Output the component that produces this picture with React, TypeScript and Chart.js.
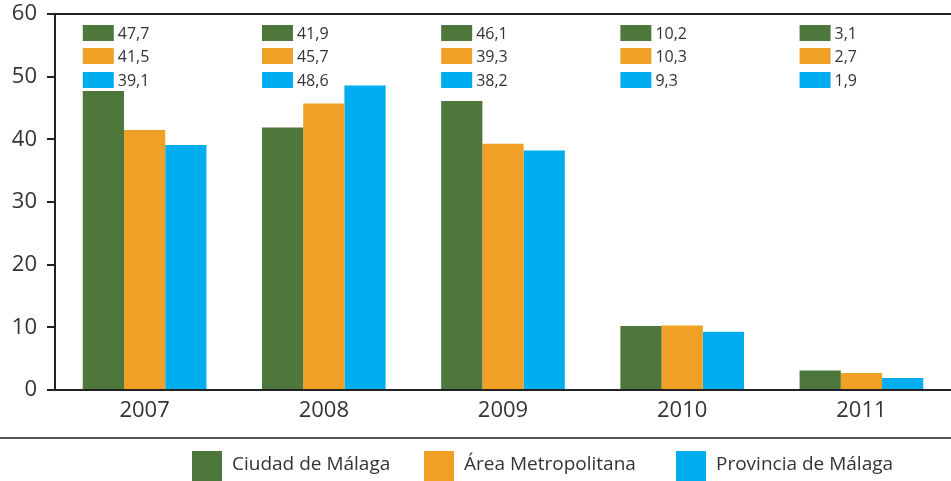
import React, { useEffect, useRef } from "react";
import { Chart, registerables } from "chart.js";

Chart.register(...registerables);

const categories = ["2007", "2008", "2009", "2010", "2011"];
const ciudad = [47.7, 41.9, 46.1, 10.2, 3.1];
const area = [41.5, 45.7, 39.3, 10.3, 2.7];
const provincia = [39.1, 48.6, 38.2, 9.3, 1.9];
const seriesNames = ["Ciudad de Málaga", "Área Metropolitana", "Provincia de Málaga"];
const colors = ["#4e773c", "#f0a024", "#00aeef"];
const yTicks = [0, 10, 20, 30, 40, 50, 60];

const CAT_PCT = 0.69;
const FONT = "'Open Sans', 'Noto Sans', sans-serif";

const fmt = (v: number) => v.toFixed(1).replace(".", ",");

const tablePlugin = {
  id: "tablePlugin",
  afterDraw(chart: any) {
    const ctx = chart.ctx;
    const x = chart.scales.x;
    const ca = chart.chartArea;
    ctx.save();
    // top border
    ctx.strokeStyle = "#222";
    ctx.lineWidth = 2;
    ctx.beginPath();
    ctx.moveTo(ca.left, ca.top);
    ctx.lineTo(chart.width, ca.top);
    ctx.stroke();

    const catW = (ca.right - ca.left) / categories.length;
    const groupW = catW * CAT_PCT;
    const rowOff = [19, 42, 66];
    ctx.font = `16px ${FONT}`;
    ctx.textBaseline = "middle";
    ctx.textAlign = "left";
    const ds = chart.data.datasets;
    categories.forEach((_, i) => {
      const left = x.getPixelForValue(i) - groupW / 2;
      ds.forEach((d: any, k: number) => {
        const cy = ca.top + rowOff[k];
        ctx.fillStyle = colors[k];
        ctx.fillRect(left, cy - 8, 31, 16);
        ctx.fillStyle = "#333";
        ctx.fillText(fmt(d.data[i]), left + 35, cy + 1);
      });
    });

    // separator line and legend
    ctx.strokeStyle = "#555";
    ctx.lineWidth = 2;
    ctx.beginPath();
    ctx.moveTo(0, 438);
    ctx.lineTo(chart.width, 438);
    ctx.stroke();

    const legX = [192, 424, 676];
    ctx.font = `19px ${FONT}`;
    seriesNames.forEach((n, k) => {
      ctx.fillStyle = colors[k];
      ctx.fillRect(legX[k], 451, 30, 30);
      ctx.fillStyle = "#333";
      ctx.fillText(n, legX[k] + 40, 465);
    });
    ctx.restore();
  },
};

export default function App() {
  const ref = useRef<HTMLCanvasElement | null>(null);
  useEffect(() => {
    if (!ref.current) return;
    const chart = new Chart(ref.current, {
      type: "bar",
      data: {
        labels: categories,
        datasets: [
          { label: seriesNames[0], data: ciudad, backgroundColor: colors[0] },
          { label: seriesNames[1], data: area, backgroundColor: colors[1] },
          { label: seriesNames[2], data: provincia, backgroundColor: colors[2] },
        ],
      },
      options: {
        animation: false,
        responsive: false,
        maintainAspectRatio: false,
        layout: { padding: { top: 14, right: 0, bottom: 0, left: 0 } },
        datasets: { bar: { categoryPercentage: CAT_PCT, barPercentage: 1 } },
        plugins: { legend: { display: false }, tooltip: { enabled: false } },
        scales: {
          x: {
            grid: { display: false },
            border: { display: true, color: "#222", width: 2 },
            ticks: { color: "#333", font: { family: FONT, size: 22 }, padding: 0 },
            afterFit(scale: any) {
              scale.height = 91;
              scale.paddingLeft = 0;
              scale.paddingRight = 0;
            },
          },
          y: {
            min: 0,
            max: 60,
            afterBuildTicks(scale: any) {
              scale.ticks = yTicks.map((v) => ({ value: v }));
            },
            grid: { drawOnChartArea: false, drawTicks: true, tickLength: 8, color: "#222", lineWidth: 2 },
            border: { display: true, color: "#222", width: 2 },
            ticks: { color: "#333", font: { family: FONT, size: 22 }, padding: 10 },
            afterFit(scale: any) {
              scale.width = 55;
              scale.paddingTop = 0;
              scale.paddingBottom = 0;
            },
          },
        },
      },
      plugins: [tablePlugin],
    });
    return () => chart.destroy();
  }, []);
  return (
    <div style={{ position: "fixed", left: 0, top: 0, width: 951, height: 481, background: "#fff" }}>
      <canvas ref={ref} width={951} height={481} style={{ display: "block" }} />
    </div>
  );
}
